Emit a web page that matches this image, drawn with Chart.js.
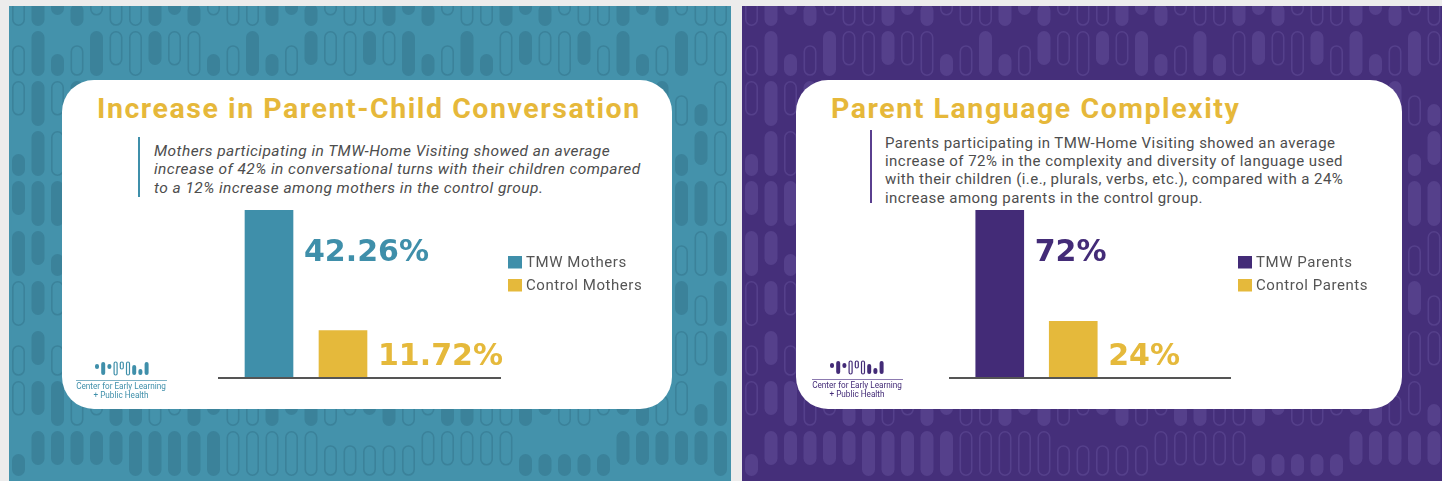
<!DOCTYPE html>
<html>
<head>
<meta charset="utf-8">
<script src="https://cdn.jsdelivr.net/npm/chart.js@4.4.0/dist/chart.umd.min.js"></script>
<style>
  html, body { margin: 0; padding: 0; }
  body { width: 1442px; height: 481px; background: #ececec; position: relative; overflow: hidden; font-family: Roboto, "DejaVu Sans", sans-serif; }
  .abs { position: absolute; }
  .card { background: #fff; border-radius: 32px; }
  .title { font-weight: 700; font-size: 28.5px; line-height: 26px; color: #e6b83a; white-space: nowrap; letter-spacing: 1.55px; }
  .note { font-size: 15.5px; line-height: 18.5px; color: #4d4d4d; white-space: nowrap; letter-spacing: 0.45px; }
  .rule { width: 2px; }
  .logo-text { font-size: 8.2px; line-height: 9px; text-align: center; white-space: nowrap; }
</style>
</head>
<body>
<canvas id="bgLeft" class="abs" width="722" height="475" style="left:9px;top:6px"></canvas>
<canvas id="bgRight" class="abs" width="700" height="475" style="left:742px;top:6px"></canvas>

<div class="abs card" style="left:62px;top:80px;width:610px;height:329px"></div>
<div class="abs card" style="left:796px;top:80px;width:606px;height:329px"></div>

<!-- left card text -->
<div class="abs title" style="left:97px;top:96px">Increase in Parent-Child Conversation</div>
<div class="abs rule" style="left:138px;top:137px;height:60px;background:#3f8faa"></div>
<div class="abs note" style="left:154px;top:141.5px;font-style:italic">Mothers participating in TMW-Home Visiting showed an average<br>increase of 42% in conversational turns with their children compared<br>to a 12% increase among mothers in the control group.</div>

<!-- right card text -->
<div class="abs title" style="left:831px;top:96px">Parent Language Complexity</div>
<div class="abs rule" style="left:870px;top:130px;height:73px;background:#5a3f8f"></div>
<div class="abs note" style="left:885px;top:133.5px;font-size:15px;line-height:18.4px">Parents participating in TMW-Home Visiting showed an average<br>increase of 72% in the complexity and diversity of language used<br>with their children (i.e., plurals, verbs, etc.), compared with a 24%<br>increase among parents in the control group.</div>

<!-- charts -->
<canvas id="chartLeft" class="abs" width="610" height="329" style="left:62px;top:80px"></canvas>
<canvas id="chartRight" class="abs" width="606" height="329" style="left:796px;top:80px"></canvas>

<!-- logos -->
<canvas id="logoLeft" class="abs" width="60" height="16" style="left:92px;top:361px"></canvas>
<div class="abs" style="left:76px;top:380px;width:91px;height:1px;background:#7fb3c6"></div>
<div class="abs logo-text" style="left:66px;top:382px;width:110px;color:#3f8faa">Center for Early Learning<br>+ Public Health</div>
<canvas id="logoRight" class="abs" width="60" height="16" style="left:827px;top:360px"></canvas>
<div class="abs" style="left:812px;top:379px;width:91px;height:1px;background:#8c7ab0"></div>
<div class="abs logo-text" style="left:802px;top:381px;width:110px;color:#432b77">Center for Early Learning<br>+ Public Health</div>

<script>
// veriler
const leftCategories = ['TMW Mothers', 'Control Mothers'];
const leftValues = [42.26, 11.72];
const rightCategories = ['TMW Parents', 'Control Parents'];
const rightValues = [72, 24];

const teal = '#3f8faa';
const gold = '#e5b93b';
const purple = '#432b77';

// arka plan deseni (dekor)
function pill(ctx, x, y, w, h, filled) {
  ctx.beginPath();
  ctx.roundRect(x, y, w, h, w / 2);
  if (filled) ctx.fill(); else ctx.stroke();
}

function drawPattern(id, bg, fg) {
  var cv = document.getElementById(id);
  var ctx = cv.getContext('2d');
  ctx.fillStyle = bg;
  ctx.fillRect(0, 0, cv.width, cv.height);
  ctx.fillStyle = fg;
  ctx.strokeStyle = fg;
  ctx.lineWidth = 1.6;
  var pitch = 19.5, w = 13, period = 50, full = 45;
  for (var r = 0; r * period - 25 < cv.height; r++) {
    var y0 = r * period - 25;
    for (var c = 0; c * pitch < cv.width; c++) {
      var k = (c * 7 + r * 11 + ((c * r) % 5)) % 6;
      var x = c * pitch + 3;
      if (k == 0) pill(ctx, x + 0.8, y0 + 0.8, w - 1.6, full - 1.6, false);
      else if (k == 1) pill(ctx, x, y0, w, full, true);
      else if (k == 2) pill(ctx, x, y0, w, 34, true);
      else if (k == 3) pill(ctx, x, y0 + full - 22, w, 22, true);
      else if (k == 4) pill(ctx, x + 0.8, y0 + 0.8, w - 1.6, 33, false);
      else pill(ctx, x + 0.8, y0 + full - 30, w - 1.6, 29, false);
    }
  }
}

function drawLogo(id, color) {
  var ctx = document.getElementById(id).getContext('2d');
  ctx.fillStyle = color;
  ctx.strokeStyle = color;
  ctx.lineWidth = 1.2;
  // [dolu mu, üst, alt]
  var glyphs = [[1, 3, 8], [1, 1, 14], [1, 3, 8], [0, 1, 14], [0, 1, 8], [0, 1, 14], [1, 4, 14], [1, 8, 14], [1, 1, 14]];
  glyphs.forEach(function (g, i) {
    var x = 3 + i * 6.2;
    if (g[0]) pill(ctx, x, g[1], 4, g[2] - g[1], true);
    else pill(ctx, x + 0.5, g[1], 3, g[2] - g[1], false);
  });
}

// çubuk sonrası: taban çizgisi, değer etiketleri, açıklama
const decorPlugin = {
  id: 'decor',
  afterDatasetsDraw(chart) {
    var ctx = chart.ctx;
    var a = chart.chartArea;
    ctx.save();
    ctx.strokeStyle = '#555555';
    ctx.lineWidth = 2;
    ctx.beginPath();
    ctx.moveTo(a.left - 14, a.bottom + 1);
    ctx.lineTo(a.right + 121, a.bottom + 1);
    ctx.stroke();

    chart.data.datasets.forEach(function (ds, i) {
      var bar = chart.getDatasetMeta(i).data[i];
      var v = ds.data[i];
      ctx.font = 'bold 30px "DejaVu Sans"';
      ctx.letterSpacing = '0px';
      ctx.fillStyle = ds.backgroundColor;
      ctx.textBaseline = 'alphabetic';
      ctx.textAlign = 'left';
      var y = Math.min(bar.y + 51, a.bottom - 12);
      ctx.fillText(v + '%', bar.x + bar.width / 2 + 11, y);

      // açıklama
      var lx = a.right + 128, ly = a.top + 46 + i * 23;
      ctx.fillRect(lx, ly, 14, 12.5);
      ctx.font = '15px Roboto';
      ctx.letterSpacing = '0.55px';
      ctx.fillStyle = '#555555';
      ctx.textBaseline = 'middle';
      ctx.fillText(ds.label, lx + 18, ly + 7);
    });
    ctx.restore();
  }
};

function makeChart(id, categories, values, colors, padLeft) {
  var ctx = document.getElementById(id).getContext('2d');
  return new Chart(ctx, {
    type: 'bar',
    data: {
      labels: categories,
      datasets: categories.map(function (c, i) {
        return {
          label: c,
          data: values.map(function (v, j) { return j === i ? v : null; }),
          backgroundColor: colors[i],
          barThickness: 48,
          grouped: false
        };
      })
    },
    options: {
      responsive: false,
      animation: false,
      layout: { padding: { left: padLeft, right: 292, top: 130, bottom: 32 } },
      scales: {
        x: { display: false },
        y: { display: false, min: 0, max: Math.max.apply(null, values) }
      },
      plugins: { legend: { display: false }, tooltip: { enabled: false } }
    },
    plugins: [decorPlugin]
  });
}

drawPattern('bgLeft', '#4492ab', '#3b829a');
drawPattern('bgRight', '#452f7a', '#55408b');
drawLogo('logoLeft', teal);
drawLogo('logoRight', purple);

makeChart('chartLeft', leftCategories, leftValues, [teal, gold], 170);
makeChart('chartRight', rightCategories, rightValues, [purple, gold], 167);
</script>
</body>
</html>
